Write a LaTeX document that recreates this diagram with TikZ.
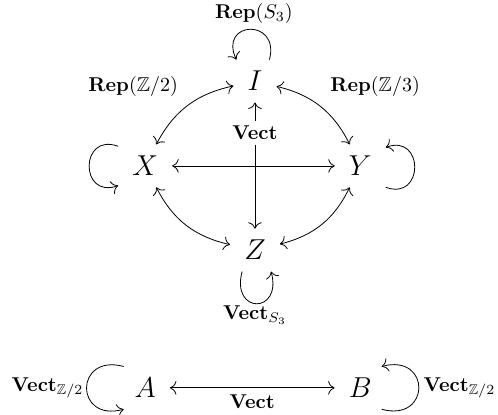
\documentclass[tikz,border=0pt]{standalone}
\usepackage{amsmath,amssymb}
\usepackage{tikz}
\usetikzlibrary{arrows.meta}
\newcommand{\bfRep}[1]{\mathbf{Rep}(#1)}
\newcommand{\bfVect}{\mathbf{Vect}}
\tikzset{
  obj/.style={font=\Large,inner xsep=6.9pt,inner ysep=5pt,minimum height=21pt},
  lbl/.style={font=\normalsize},
  link/.style={{To[scale=1.3]}-{To[scale=1.3]}},
  selfmap/.style={-{To[scale=1.3]}},
  mid/.style={fill=white,inner sep=2.5pt},
}

\begin{document}
\begin{tikzpicture}
    \useasboundingbox (0,0) rectangle (8.75,7.275);
    % --- the four objects ---
    \node[obj] (I) at (4.48,5.85) {$I$};
    \node[obj] (X) at (2.55,4.36) {$X$};
    \node[obj] (Y) at (6.33,4.36) {$Y$};
    \node[obj] (Z) at (4.48,2.88) {$Z$};
    \draw[link] (I) to[bend right=25] (X);
    \draw[link] (I) to[bend left=25] (Y);
    \draw[link] (X) to[bend right=25] (Z);
    \draw[link] (Z) to[bend right=25] (Y);
    \draw[link] (X) -- (Y);
    \draw[link] (I) -- node[lbl,mid,pos=0.24] (vIZ) {$\bfVect$} (Z);
    \node[lbl] (rIX) at (2.34,5.75) {$\bfRep{\mathbb{Z}/2}$};
    \node[lbl] (rIY) at (6.59,5.75) {$\bfRep{\mathbb{Z}/3}$};
    % --- self maps ---
    \draw[selfmap] (I.56) .. controls +(75:0.76) and +(115:0.76) .. (I.131);
    \draw[selfmap] (X.144) .. controls +(160:0.72) and +(200:0.72) .. (X.216);
    \draw[selfmap] (Y.320) .. controls +(-20:0.72) and +(20:0.72) .. (Y.36);
    \draw[selfmap] (Z.239) .. controls +(255:0.78) and +(285:0.78) .. (Z.307);
    \node[lbl] (rI) at (4.46,7.03) {$\bfRep{S_3}$};
    \node[lbl] (vZ) at (4.48,1.74) {$\bfVect_{S_3}$};
    % --- bottom row ---
    \node[obj] (A) at (2.55,0.46) {$A$};
    \node[obj] (B) at (6.33,0.46) {$B$};
    \draw[link] (A) -- node[lbl,below] (vAB) {$\bfVect$} (B);
    \draw[selfmap] (A.135) .. controls +(165:0.9) and +(195:0.9) .. (A.225);
    \draw[selfmap] (B.315) .. controls +(-15:0.9) and +(15:0.9) .. (B.45);
    \node[lbl,anchor=east] (vA) at (1.59,0.46) {$\bfVect_{\mathbb{Z}/2}$};
    \node[lbl,anchor=west] (vB) at (7.32,0.46) {$\bfVect_{\mathbb{Z}/2}$};
\end{tikzpicture}
\end{document}
